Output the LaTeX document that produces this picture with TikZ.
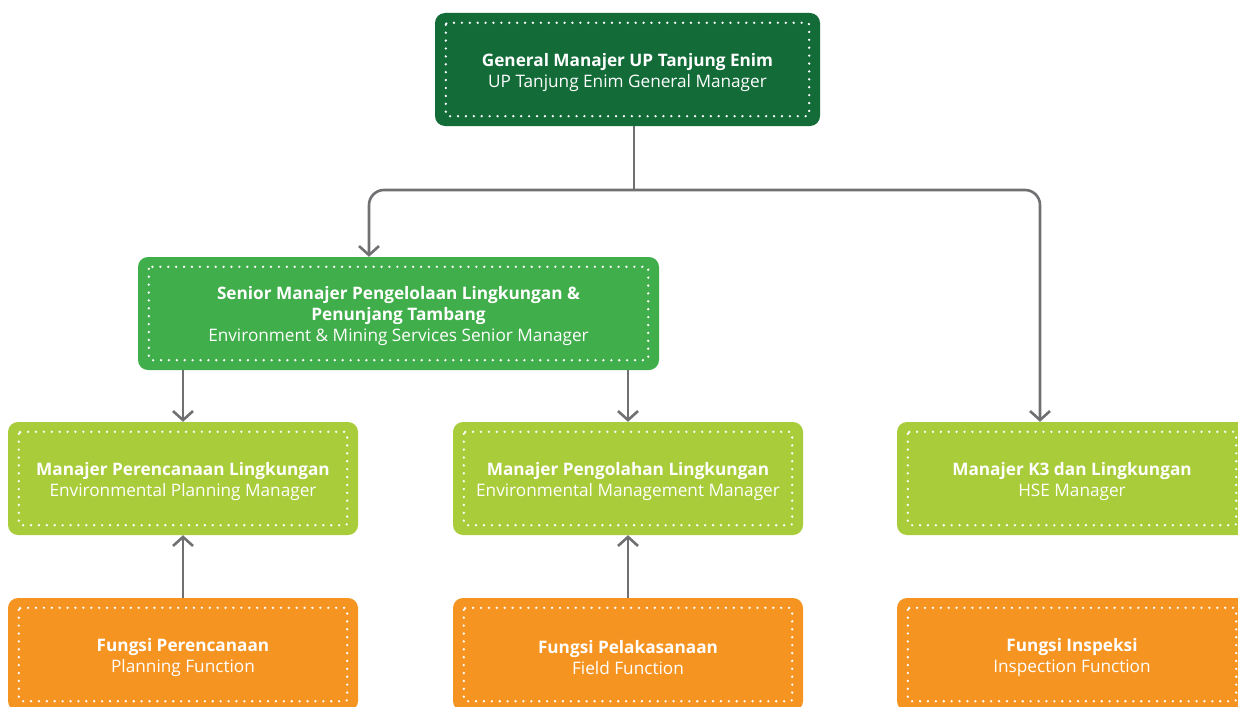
\documentclass[tikz,border=0pt]{standalone}
\usepackage{fontspec}
\setmainfont{Open Sans}
\usetikzlibrary{arrows.meta}
\definecolor{dkgreen}{HTML}{136B38}
\definecolor{mdgreen}{HTML}{40AE4A}
\definecolor{lime}{HTML}{A9CC3A}
\definecolor{orng}{HTML}{F69422}
\definecolor{conn}{HTML}{707073}
\tikzset{
  orgbox/.style={rounded corners=10pt, minimum width=385pt, minimum height=113pt, inner sep=0pt},
  boxtext/.style={text=white, align=center, inner sep=0pt, yshift=-3pt, font=\fontsize{17.2}{21}\selectfont},
  dotframe/.style={white, line width=2.6pt, line cap=round, dash pattern=on 0pt off 7.9pt},
  connline/.style={draw=conn, line width=2.6pt},
  connarrow/.style={connline, -{Straight Barb[length=9pt,width=20pt,line width=2.6pt]}},
}
\newcommand{\dotted}[1]{\draw[dotframe, rounded corners=2pt] ([shift={(11,10)}]#1.north west) rectangle ([shift={(-11,-10)}]#1.south east);}
\begin{document}
\begin{tikzpicture}[x=1pt,y=-1pt]
\useasboundingbox (0,0) rectangle (1238,706);
\clip (0,0) rectangle (1238,706);
% boxes
\node[orgbox, fill=dkgreen, minimum width=385pt, label={[boxtext]center:\textbf{General Manajer UP Tanjung Enim}\\UP Tanjung Enim General Manager}] (T) at (627.5,69.5) {};
\node[orgbox, fill=mdgreen, minimum width=521pt, label={[boxtext]center:\textbf{Senior Manajer Pengelolaan Lingkungan \&}\\\textbf{Penunjang Tambang}\\Environment \& Mining Services Senior Manager}] (S) at (398.5,313.5) {};
\node[orgbox, fill=lime, minimum width=350pt, label={[boxtext]center:\textbf{Manajer Perencanaan Lingkungan}\\Environmental Planning Manager}] (L) at (183,478.5) {};
\node[orgbox, fill=lime, minimum width=350pt, label={[boxtext]center:\textbf{Manajer Pengolahan Lingkungan}\\Environmental Management Manager}] (M) at (628,478.5) {};
\node[orgbox, fill=lime, minimum width=350pt, label={[boxtext]center:\textbf{Manajer K3 dan Lingkungan}\\HSE Manager}] (R) at (1072,478.5) {};
\node[orgbox, fill=orng, minimum width=350pt, label={[boxtext]center:\textbf{Fungsi Perencanaan}\\Planning Function}] (BL) at (183,654.5) {};
\node[orgbox, fill=orng, minimum width=350pt, label={[boxtext]center:\textbf{Fungsi Pelakasanaan}\\Field Function}] (BM) at (628,654.5) {};
\node[orgbox, fill=orng, minimum width=350pt, label={[boxtext]center:\textbf{Fungsi Inspeksi}\\Inspection Function}] (BR) at (1072,654.5) {};
\foreach \n in {T,S,L,M,R,BL,BM,BR} {\dotted{\n}}
% connectors
\coordinate (j) at (634,190);
\coordinate (sx) at (369,0);
\coordinate (rx) at (1040,0);
\draw[connline] (T.south -| j) -- (j);
\draw[connarrow, rounded corners=15pt] (j) -| (S.north -| sx);
\draw[connarrow, rounded corners=15pt] (j) -| (R.north -| rx);
\draw[connarrow] (S.south -| L.north) -- (L.north);
\draw[connarrow] (S.south -| M.north) -- (M.north);
\draw[connarrow] (BL.north) -- (L.south);
\draw[connarrow] (BM.north) -- (M.south);
\end{tikzpicture}
\end{document}
